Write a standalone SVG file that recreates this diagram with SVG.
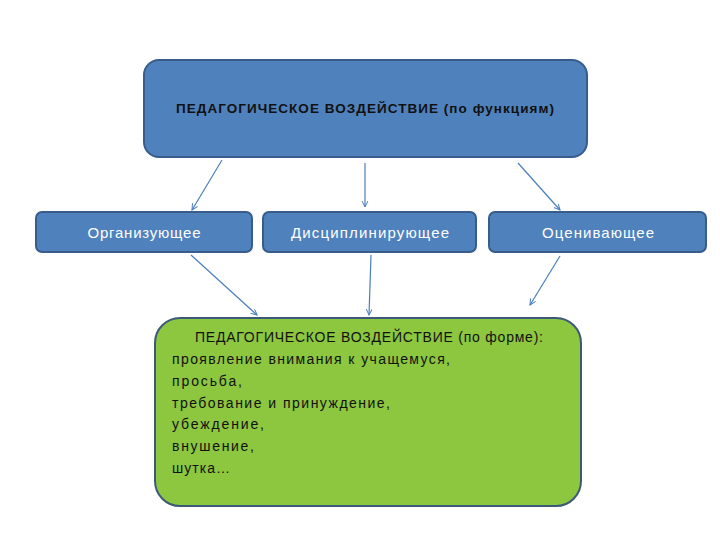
<svg xmlns="http://www.w3.org/2000/svg" width="720" height="540" viewBox="0 0 720 540">
<style>
.blue{fill:#4f81bd;stroke:#385d8a;stroke-width:2}
.green{fill:#8dc63f;stroke:#3c5a78;stroke-width:2}
.t{font-family:"Liberation Sans",Arial,sans-serif}
.w{fill:#fff;font-size:15px;text-anchor:middle}
.k{fill:#111;font-size:14px}
.c{stroke:#4a7ebb;stroke-width:1.2;fill:none;marker-end:url(#a)}
</style>
<defs>
<marker id="a" markerWidth="8" markerHeight="8" refX="6" refY="3" orient="auto" markerUnits="userSpaceOnUse">
<path d="M0,0 L6,3 L0,6" fill="none" stroke="#4a7ebb" stroke-width="1"/>
</marker>
</defs>
<rect width="720" height="540" fill="#fff"/>
<g id="connectors">
<line class="c" x1="222" y1="160" x2="192" y2="210"/>
<line class="c" x1="365" y1="163" x2="365" y2="207"/>
<line class="c" x1="518" y1="163" x2="560" y2="210"/>
<line class="c" x1="191" y1="255" x2="257" y2="315"/>
<line class="c" x1="371" y1="255" x2="369" y2="315"/>
<line class="c" x1="560" y1="256" x2="530" y2="305"/>
</g>
<g id="top">
<rect class="blue" x="144" y="60" width="443" height="97" rx="15"/>
<text class="t" x="176" y="113" font-size="13.5" font-weight="bold" fill="#111" textLength="378" lengthAdjust="spacing">ПЕДАГОГИЧЕСКОЕ ВОЗДЕЙСТВИЕ (по функциям)</text>
</g>
<g id="org">
<rect class="blue" x="36" y="212" width="216" height="40" rx="6"/>
<text class="t w" x="144" y="238" textLength="113" lengthAdjust="spacing">Организующее</text>
</g>
<g id="disc">
<rect class="blue" x="263" y="212" width="213" height="40" rx="6"/>
<text class="t w" x="370" y="238" textLength="158" lengthAdjust="spacing">Дисциплинирующее</text>
</g>
<g id="ocen">
<rect class="blue" x="489" y="212" width="217" height="40" rx="6"/>
<text class="t w" x="598" y="238" textLength="112" lengthAdjust="spacing">Оценивающее</text>
</g>
<g id="form">
<rect class="green" x="155" y="318" width="426" height="188" rx="25"/>
<text class="t k" x="195" y="342" textLength="348" lengthAdjust="spacing">ПЕДАГОГИЧЕСКОЕ ВОЗДЕЙСТВИЕ (по форме):</text>
<text class="t k" x="172" y="364" textLength="278" lengthAdjust="spacing">проявление внимания к учащемуся,</text>
<text class="t k" x="172" y="386" textLength="70" lengthAdjust="spacing">просьба,</text>
<text class="t k" x="172" y="408" textLength="218" lengthAdjust="spacing">требование и принуждение,</text>
<text class="t k" x="172" y="429" textLength="92" lengthAdjust="spacing">убеждение,</text>
<text class="t k" x="172" y="451" textLength="82" lengthAdjust="spacing">внушение,</text>
<text class="t k" x="172" y="473" textLength="58" lengthAdjust="spacing">шутка…</text>
</g>
</svg>
